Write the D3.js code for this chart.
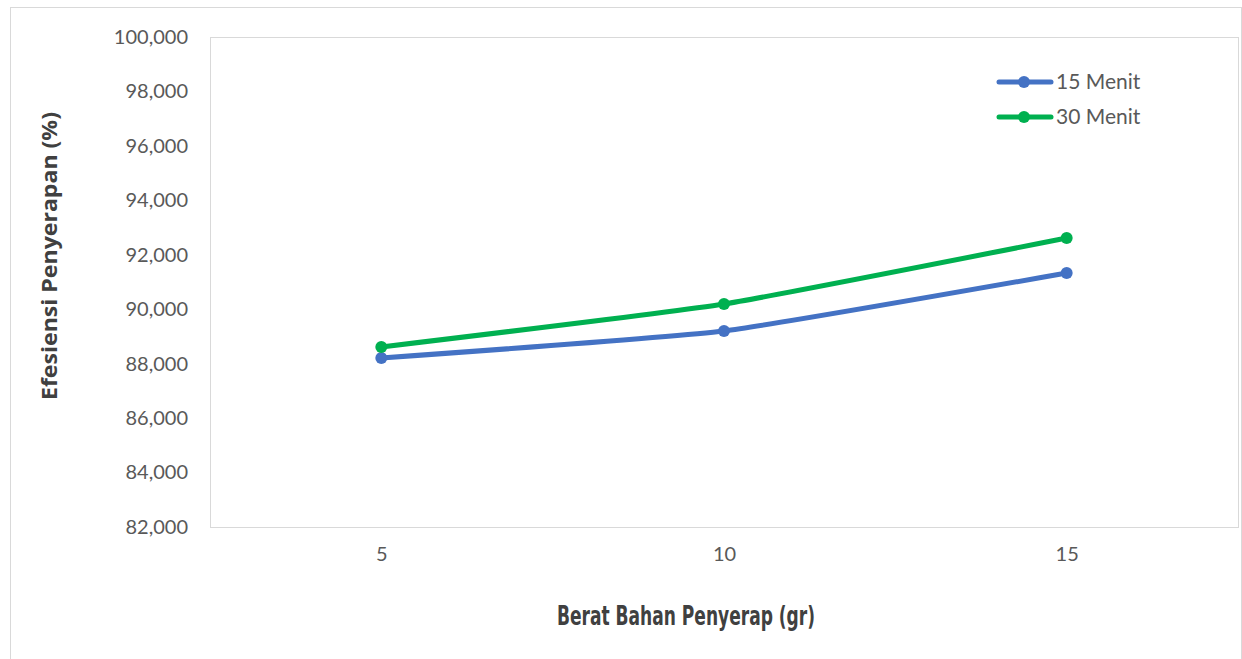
<!DOCTYPE html>
<html>
<head>
<meta charset="utf-8">
<script src="https://cdn.jsdelivr.net/npm/d3@7"></script>
<style>
  html, body { margin: 0; padding: 0; background: #fff; }
  svg { display: block; }
</style>
</head>
<body>
<svg id="chart" width="1242" height="659"></svg>
<script>
// Absorption efficiency by absorbent mass, for two contact times
const categories = ["5", "10", "15"];
const seriesNames = ["15 Menit", "30 Menit"];
const menit15 = [88.208, 89.200, 91.330];
const menit30 = [88.613, 90.193, 92.617];
const yTicks = [82000, 84000, 86000, 88000, 90000, 92000, 94000, 96000, 98000, 100000];
const colors = ["#4472C4", "#00B050"];

const svg = d3.select("#chart");
const W = 1242, H = 659;
const plot = { left: 210, top: 37, right: 1238, bottom: 527 };

// outer chart frame
svg.append("rect")
  .attr("x", 10.5).attr("y", 7.5)
  .attr("width", W - 10 - 1).attr("height", H - 7 + 10)
  .attr("fill", "#fff").attr("stroke", "#d9d9d9").attr("stroke-width", 1);

// plot-area frame
svg.append("rect")
  .attr("x", plot.left + 0.5).attr("y", plot.top + 0.5)
  .attr("width", plot.right - plot.left).attr("height", plot.bottom - plot.top)
  .attr("fill", "none").attr("stroke", "#d9d9d9").attr("stroke-width", 1);

const x = d3.scalePoint().domain(categories)
  .range([plot.left, plot.right]).padding(0.5);
const y = d3.scaleLinear().domain([82, 100]).range([plot.bottom, plot.top]);

const fmt = v => d3.format(",")(v);

// y axis labels
const yAxis = d3.axisLeft(y)
  .tickValues(yTicks.map(v => v / 1000))
  .tickFormat(v => fmt(Math.round(v * 1000)))
  .tickSize(0).tickPadding(22);
const gy = svg.append("g").attr("transform", `translate(${plot.left},0)`).call(yAxis);
gy.select(".domain").remove();
gy.selectAll("text")
  .attr("font-family", "Lato, 'Open Sans', sans-serif")
  .attr("font-size", 20).attr("fill", "#595959");

// x axis labels
const xAxis = d3.axisBottom(x).tickSize(0).tickPadding(20);
const gx = svg.append("g").attr("transform", `translate(0,${plot.bottom})`).call(xAxis);
gx.select(".domain").remove();
gx.selectAll("text")
  .attr("font-family", "Lato, 'Open Sans', sans-serif")
  .attr("font-size", 20).attr("fill", "#595959");

// axis titles
svg.append("text")
  .attr("x", 686).attr("y", 625)
  .attr("text-anchor", "middle")
  .attr("font-family", "'DejaVu Sans Condensed', 'Liberation Sans Narrow', sans-serif")
  .attr("font-weight", "bold").attr("font-size", 27).attr("fill", "#404040")
  .attr("textLength", 258).attr("lengthAdjust", "spacingAndGlyphs")
  .text("Berat Bahan Penyerap (gr)");

svg.append("text")
  .attr("transform", `translate(57,256) rotate(-90)`)
  .attr("text-anchor", "middle")
  .attr("font-family", "'Open Sans', sans-serif")
  .attr("font-weight", "bold").attr("font-size", 21).attr("fill", "#404040")
  .attr("textLength", 288).attr("lengthAdjust", "spacingAndGlyphs")
  .text("Efesiensi Penyerapan (%)");

// series lines and markers
const data = [menit15, menit30];
const line = d3.line().x((d, i) => x(categories[i])).y(d => y(d)).curve(d3.curveCardinal.tension(0.6));

data.forEach((vals, s) => {
  const g = svg.append("g");
  g.append("path").datum(vals)
    .attr("d", line).attr("fill", "none")
    .attr("stroke", colors[s]).attr("stroke-width", 5)
    .attr("stroke-linecap", "round").attr("stroke-linejoin", "round");
  g.selectAll("circle").data(vals).join("circle")
    .attr("cx", (d, i) => x(categories[i])).attr("cy", d => y(d))
    .attr("r", 6).attr("fill", colors[s]);
});

// legend
const legend = svg.append("g");
seriesNames.forEach((name, s) => {
  const ly = 82 + s * 35;
  legend.append("line")
    .attr("x1", 999).attr("x2", 1051).attr("y1", ly).attr("y2", ly)
    .attr("stroke", colors[s]).attr("stroke-width", 5).attr("stroke-linecap", "round");
  legend.append("circle").attr("cx", 1024).attr("cy", ly).attr("r", 6).attr("fill", colors[s]);
  legend.append("text")
    .attr("x", 1056).attr("y", ly).attr("dy", "0.35em")
    .attr("font-family", "Lato, 'Open Sans', sans-serif")
    .attr("font-size", 21).attr("fill", "#595959")
    .text(name);
});
</script>
</body>
</html>
